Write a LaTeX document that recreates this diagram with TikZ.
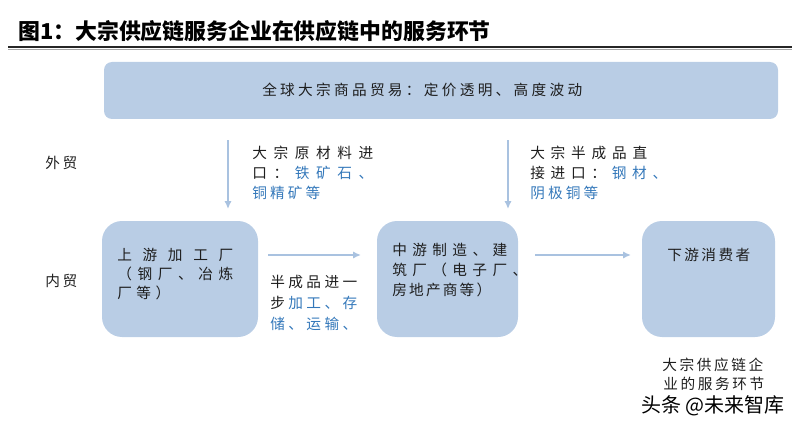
\documentclass[tikz,border=0pt]{standalone}
\usepackage{fontspec}
\setmainfont{Noto Sans CJK SC}
\usetikzlibrary{arrows.meta}
\definecolor{boxfill}{HTML}{B9CDE5}
\definecolor{arrowc}{HTML}{A9C2E0}
\definecolor{bluet}{HTML}{3478BA}
\definecolor{txt}{HTML}{1E1E1E}
\newlength\pxu \setlength\pxu{0.75pt}
\def\BL{\color{bluet}}
\def\sprd#1{\ifx#1\BL\BL\expandafter\sprd\else#1\expandafter\sprdnext\fi}
\def\sprdnext#1{\ifx#1\relax\else\ifx#1\BL\BL\else\hfill#1\fi\expandafter\sprdnext\fi}
\newcommand\jl[2]{\hbox to #1\pxu{\sprd#2\relax}}
\tikzset{
  lbl/.style={anchor=west, inner sep=0pt, text height=0.76em, text depth=0pt,
    font=\fontsize{11pt}{13pt}\selectfont, text=txt},
  bluebox/.style={fill=boxfill, draw=none, inner sep=0pt},
  conn/.style={draw=arrowc, line width=1.5pt, -{Latex[length=6pt,width=5.5pt]}},
}
\begin{document}
\begin{tikzpicture}[x=0.75pt, y=-0.75pt]
\useasboundingbox (0,0) rectangle (800,428);
% title
\node[anchor=west, inner sep=0pt, text=black, font=\fontsize{16.4pt}{18pt}\selectfont\bfseries] (title) at (18,31) {图1：大宗供应链服务企业在供应链中的服务环节};
\draw[line width=1.6pt, draw=black!85] (8,47) -- (792,47);
\draw[line width=0.5pt, draw=black!35] (8,49.5) -- (792,49.5);
% boxes
\node[bluebox, rounded corners=6pt, minimum width=505.5pt, minimum height=42.75pt] (top) at (441,90.5) {};
\node[bluebox, rounded corners=15pt, minimum width=117pt, minimum height=87pt] (b1) at (180,279) {};
\node[bluebox, rounded corners=15pt, minimum width=105.75pt, minimum height=87pt] (b2) at (447.5,279) {};
\node[bluebox, rounded corners=15pt, minimum width=99.75pt, minimum height=87pt] (b3) at (708.5,279) {};
% top text
\node[lbl] (toptext) at (262,90) {\jl{320}{全球大宗商品贸易：定价透明、高度波动}};
% side labels
\node[lbl] (wai) at (45,163) {\jl{32}{外贸}};
\node[lbl] (nei) at (45,281) {\jl{32}{内贸}};
% arrows
\coordinate (a1s) at (228,140); \coordinate (a1e) at (228,209);
\coordinate (a2s) at (508,140); \coordinate (a2e) at (508,209);
\coordinate (a3s) at (268,255); \coordinate (a3e) at (361,255);
\coordinate (a4s) at (535,255); \coordinate (a4e) at (631,255);
\draw[conn] (a1s) -- (a1e);
\draw[conn] (a2s) -- (a2e);
\draw[conn] (a3s) -- (a3e);
\draw[conn] (a4s) -- (a4e);
% arrow texts
\node[lbl] (tA1) at (252,153) {\jl{121}{大宗原材料进}};
\node[lbl] (tA2) at (252,173) {\jl{121}{口：\BL 铁矿石、}};
\node[lbl] (tA3) at (252,193) {\jl{68}{\BL 铜精矿等}};
\node[lbl] (tB1) at (530,153) {\jl{117}{大宗半成品直}};
\node[lbl] (tB2) at (530,173) {\jl{137}{接进口：\BL 钢材、}};
\node[lbl] (tB3) at (530,193) {\jl{68}{\BL 阴极铜等}};
\node[lbl] (tC1) at (270,282) {\jl{87}{半成品进一}};
\node[lbl] (tC2) at (270,303) {\jl{87}{步\BL 加工、存}};
\node[lbl] (tC3) at (270,324) {\jl{87}{\BL 储、运输、}};
% box texts
\node[lbl] (u1) at (117,255) {\jl{116}{上游加工厂}};
\node[lbl] (u2) at (117,274) {\jl{116}{（钢厂、冶炼}};
\node[lbl] (u3) at (117,293) {\jl{53}{厂等）}};
\node[lbl] (m1) at (392,250) {\jl{115}{中游制造、建}};
\node[lbl] (m2) at (392,270) {\jl{135}{筑厂（电子厂、}};
\node[lbl] (m3) at (392,290) {\jl{99}{房地产商等）}};
\node[lbl] (d1) at (667,255) {\jl{83}{下游消费者}};
% bottom label
\node[lbl] (e1) at (662,365) {\jl{101}{大宗供应链企}};
\node[lbl] (e2) at (663,384) {\jl{101}{业的服务环节}};
\node[inner sep=0pt, text=black, font=\fontsize{15pt}{17pt}\selectfont] (wm) at (713,406) {头条 @未来智库};
\end{tikzpicture}
\end{document}
